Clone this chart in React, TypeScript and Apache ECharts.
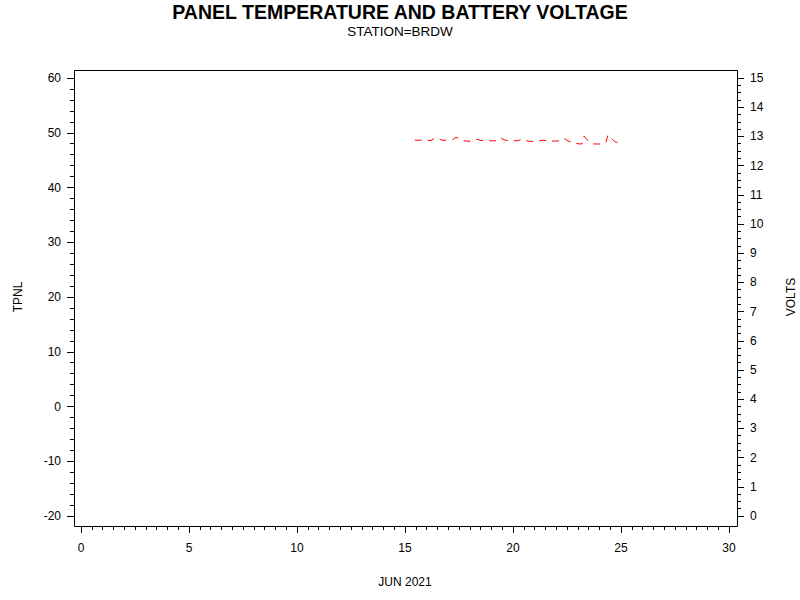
import React, { useEffect, useRef } from 'react'
import * as echarts from 'echarts'

// day of month (JUN 2021) and battery volts
const days = [
  15.45, 15.83, 16.2, 16.35, 16.48, 16.7, 17.0, 17.18, 17.36, 17.55, 17.73,
  18.06, 18.33, 18.52, 18.94, 19.26, 19.44, 19.6, 19.81, 20.19, 20.42, 20.74,
  21.11, 21.39, 21.76, 22.08, 22.36, 22.55, 22.78, 23.19, 23.29, 23.47, 23.75,
  24.12, 24.3, 24.4, 24.55, 24.72, 25.05,
]
const volts = [
  12.87, 12.87, 12.86, 12.93, 12.96, 12.87, 12.87, 12.87, 12.97, 12.91, 12.85,
  12.83, 12.9, 12.86, 12.85, 12.85, 12.94, 12.88, 12.85, 12.85, 12.9, 12.83,
  12.83, 12.87, 12.84, 12.84, 12.93, 12.85, 12.76, 12.74, 13.01, 12.85, 12.74,
  12.74, 12.8, 13.05, 12.93, 12.82, 12.73,
]

const FONT = 'Liberation Sans'

export default function App(): JSX.Element {
  const ref = useRef<HTMLDivElement>(null)

  useEffect(() => {
    if (!ref.current) return
    const chart = echarts.init(ref.current, undefined, { renderer: 'svg' })
    const tick = { show: true, length: 7, lineStyle: { color: '#000', width: 1 } }
    const label = { color: '#000', fontSize: 12, fontFamily: FONT }
    const nameStyle = { color: '#000', fontSize: 12, fontFamily: FONT }
    chart.setOption({
      animation: false,
      backgroundColor: '#fff',
      title: {
        text: 'PANEL TEMPERATURE AND BATTERY VOLTAGE',
        subtext: 'STATION=BRDW',
        left: 'center', top: -3, itemGap: 2,
        textStyle: { color: '#000', fontSize: 19.5, fontWeight: 'bold', fontFamily: FONT },
        subtextStyle: { color: '#000', fontSize: 13.5, fontFamily: FONT },
      },
      // fixed plot area; don't let ECharts shrink it to fit the outer labels
      grid: { left: 81, right: 71, top: 78, bottom: 84, outerBoundsMode: 'none', containLabel: false },
      graphic: [{
        type: 'rect', shape: { x: 74.5, y: 70.5, width: 663, height: 456 },
        style: { fill: 'none', stroke: '#000', lineWidth: 1 }, z: 10,
      }],
      xAxis: {
        type: 'value', min: 0, max: 30, interval: 5, offset: 10,
        name: 'JUN 2021', nameLocation: 'middle', nameGap: 50, nameTextStyle: nameStyle,
        axisLine: { show: false, onZero: false }, axisTick: tick,
        minorTick: { show: true, splitNumber: 10, length: 4, lineStyle: { color: '#000' } },
        axisLabel: { ...label, margin: 16 },
        splitLine: { show: false },
      },
      yAxis: [
        {
          type: 'value', min: -20, max: 60, interval: 10, offset: 7, position: 'left',
          name: 'TPNL', nameLocation: 'middle', nameGap: 50, nameTextStyle: nameStyle,
          axisLine: { show: false, onZero: false }, axisTick: tick,
          minorTick: { show: true, splitNumber: 5, length: 4, lineStyle: { color: '#000' } },
          axisLabel: { ...label, margin: 13 },
          splitLine: { show: false },
        },
        {
          type: 'value', min: 0, max: 15, interval: 1, offset: 8, position: 'right',
          name: 'VOLTS', nameLocation: 'middle', nameGap: 48, nameTextStyle: nameStyle,
          axisLine: { show: false, onZero: false }, axisTick: tick,
          minorTick: { show: true, splitNumber: 4, length: 4, lineStyle: { color: '#000' } },
          axisLabel: { ...label, margin: 13 },
          splitLine: { show: false },
        },
      ],
      series: [{
        type: 'line', yAxisIndex: 1, symbol: 'none',
        data: days.map((d, i) => [d, volts[i]]),
        lineStyle: { color: '#ff0000', width: 1, type: [7, 6] },
      }],
    })
    return () => { chart.dispose() }
  }, [])

  return <div ref={ref} style={{ position: 'fixed', left: 0, top: 0, width: 800, height: 600 }} />
}
